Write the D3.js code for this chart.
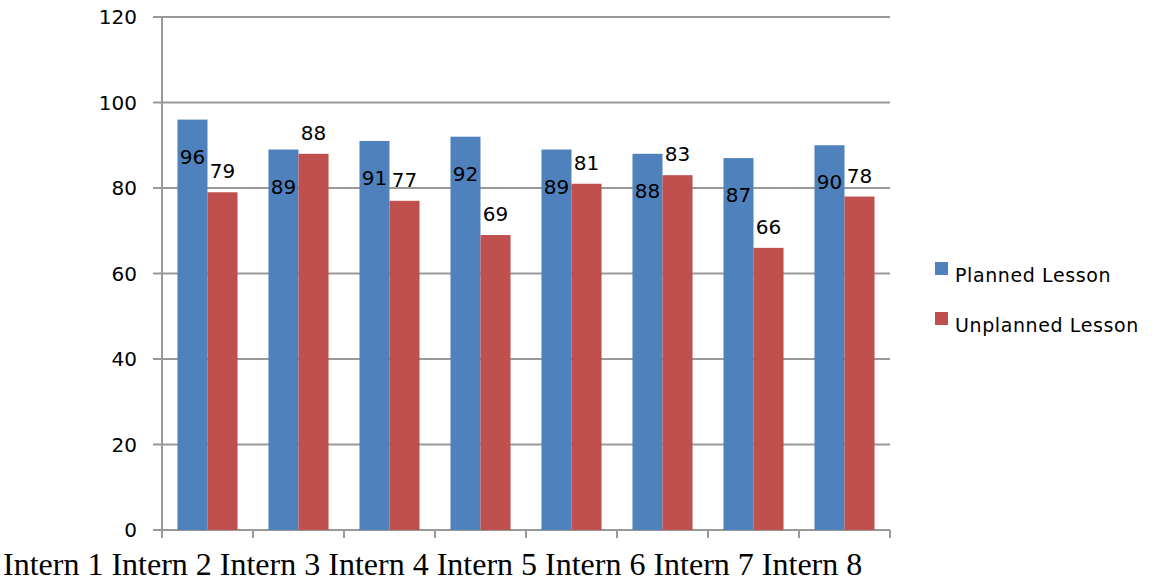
<!DOCTYPE html>
<html>
<head>
<meta charset="utf-8">
<script src="https://cdn.jsdelivr.net/npm/d3@7"></script>
<style>
  body { margin: 0; background: #fff; }
  svg text { font-family: "DejaVu Sans", Verdana, sans-serif; }
</style>
</head>
<body>
<div id="chart"></div>
<script>
// data
const interns = ['Intern 1', 'Intern 2', 'Intern 3', 'Intern 4', 'Intern 5', 'Intern 6', 'Intern 7', 'Intern 8'];
const planned = [96, 89, 91, 92, 89, 88, 87, 90];
const unplanned = [79, 88, 77, 69, 81, 83, 66, 78];
const seriesNames = ['Planned Lesson', 'Unplanned Lesson'];
const seriesColors = ['#4f81bd', '#c0504d'];
const yTicks = [0, 20, 40, 60, 80, 100, 120];

const width = 1157, height = 581;
const margin = {top: 17, left: 162, right: 267, bottom: 51};
const w = width - margin.left - margin.right;
const h = height - margin.top - margin.bottom;

const svg = d3.select('#chart').append('svg')
    .attr('width', width)
    .attr('height', height);

const g = svg.append('g')
    .attr('transform', `translate(${margin.left},${margin.top})`);

const x0 = d3.scaleBand().domain(interns).range([0, w]);
const x1 = d3.scaleBand().domain(seriesNames)
    .range([x0.bandwidth() * 0.17, x0.bandwidth() * 0.83]);
const y = d3.scaleLinear().domain([0, 120]).range([h, 0]);

// gridlines + left ticks
g.append('g')
  .selectAll('line')
  .data(yTicks)
  .join('line')
    .attr('x1', -9)
    .attr('x2', w)
    .attr('y1', d => y(d))
    .attr('y2', d => y(d))
    .attr('stroke', '#999')
    .attr('stroke-width', 2);

// y axis labels
g.append('g')
  .selectAll('text')
  .data(yTicks)
  .join('text')
    .attr('x', -25)
    .attr('y', d => y(d))
    .attr('dy', '0.36em')
    .attr('text-anchor', 'end')
    .attr('font-size', 20)
    .attr('fill', '#000')
    .text(d => d);

// y axis line
g.append('line')
    .attr('x1', 0).attr('x2', 0)
    .attr('y1', 0).attr('y2', h)
    .attr('stroke', '#999')
    .attr('stroke-width', 2);

// x axis ticks at category boundaries
const bounds = interns.map(d => x0(d)).concat([w]);
g.append('g')
  .selectAll('line')
  .data(bounds)
  .join('line')
    .attr('x1', d => d).attr('x2', d => d)
    .attr('y1', h).attr('y2', h + 8)
    .attr('stroke', '#999')
    .attr('stroke-width', 2);

const rows = interns.map((name, i) => ({name, values: [planned[i], unplanned[i]]}));

const groups = g.append('g')
  .selectAll('g')
  .data(rows)
  .join('g')
    .attr('transform', d => `translate(${x0(d.name)},0)`);

groups.selectAll('rect')
  .data(d => d.values.map((v, k) => ({key: seriesNames[k], v, k})))
  .join('rect')
    .attr('x', d => x1(d.key))
    .attr('y', d => y(d.v))
    .attr('width', x1.bandwidth())
    .attr('height', d => h - y(d.v))
    .attr('fill', d => seriesColors[d.k]);

// value labels: planned sits inside the bar, unplanned above it
groups.selectAll('text')
  .data(d => d.values.map((v, k) => ({key: seriesNames[k], v, k})))
  .join('text')
    .attr('x', d => x1(d.key) + x1.bandwidth() / 2)
    .attr('y', d => d.k === 0 ? y(d.v) + 37 : y(d.v) - 21)
    .attr('dy', '0.36em')
    .attr('text-anchor', 'middle')
    .attr('font-size', 20)
    .attr('fill', '#000')
    .text(d => d.v);

// x axis labels as one line of serif text
svg.append('text')
    .attr('x', 3)
    .attr('y', 575)
    .style('font-family', '"Liberation Serif", "Times New Roman", serif')
    .attr('font-size', 32)
    .attr('fill', '#000')
    .text(interns.join(' '));

// legend
const legend = svg.append('g')
    .attr('transform', 'translate(935,262)');

const items = legend.selectAll('g')
  .data(seriesNames)
  .join('g')
    .attr('transform', (d, i) => `translate(0,${i * 50})`);

items.append('rect')
    .attr('width', 13)
    .attr('height', 13)
    .attr('fill', (d, i) => seriesColors[i]);

items.append('text')
    .attr('x', 20)
    .attr('y', 20)
    .attr('font-size', 19)
    .attr('letter-spacing', 0.6)
    .attr('fill', '#000')
    .text(d => d);
</script>
</body>
</html>
